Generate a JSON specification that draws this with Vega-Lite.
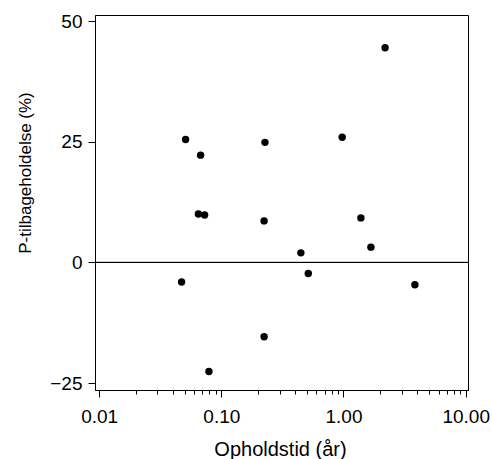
{
  "$schema": "https://vega.github.io/schema/vega-lite/v6.json",
  "width": 373,
  "height": 375,
  "autosize": {"type": "none"},
  "padding": {"left": 95, "top": 15, "right": 24, "bottom": 69},
  "background": "white",
  "config": {
    "font": "Liberation Sans",
    "view": {"stroke": "black", "strokeWidth": 1},
    "axis": {
      "domainColor": "black", "tickColor": "black", "labelColor": "black", "titleColor": "black",
      "labelFont": "Liberation Sans", "titleFont": "Liberation Sans",
      "titleFontWeight": "normal", "grid": false
    }
  },
  "data": {"values": [
    {"tid": 0.051, "p": 25.5},
    {"tid": 0.0677, "p": 22.25},
    {"tid": 0.0649, "p": 10.06},
    {"tid": 0.073, "p": 9.86},
    {"tid": 2.19, "p": 44.5},
    {"tid": 0.2277, "p": 24.9},
    {"tid": 0.976, "p": 25.97},
    {"tid": 0.224, "p": 8.62},
    {"tid": 1.388, "p": 9.24},
    {"tid": 1.676, "p": 3.18},
    {"tid": 0.448, "p": 2.0},
    {"tid": 0.515, "p": -2.27},
    {"tid": 3.84, "p": -4.6},
    {"tid": 0.224, "p": -15.4},
    {"tid": 0.0473, "p": -4.05},
    {"tid": 0.0792, "p": -22.6}
  ]},
  "layer": [
    {
      "mark": {"type": "rule", "color": "black", "strokeWidth": 1},
      "encoding": {"y": {"datum": 0, "type": "quantitative"}}
    },
    {
      "mark": {"type": "point", "filled": true, "color": "black", "opacity": 1, "size": 55},
      "encoding": {
        "x": {
          "field": "tid", "type": "quantitative",
          "scale": {"type": "log", "domain": [0.00925, 10.45], "nice": false},
          "axis": {
            "title": "Opholdstid (år)",
            "titleFontSize": 20,
            "titleBaseline": "alphabetic",
            "titleY": 65.5,
            "titleX": 185,
            "values": [0.01, 0.02, 0.03, 0.04, 0.05, 0.06, 0.07, 0.08, 0.09, 0.1, 0.2, 0.3, 0.4, 0.5, 0.6, 0.7, 0.8, 0.9, 1, 2, 3, 4, 5, 6, 7, 8, 9, 10],
            "labelExpr": "abs(log(datum.value)/LN10 - round(log(datum.value)/LN10)) < 1e-6 ? format(datum.value, '.2f') : ''",
            "labelOverlap": false,
            "labelBound": false,
            "labelFlush": false,
            "labelFontSize": 19,
            "labelBaseline": "alphabetic",
            "labelPadding": 25.5,
            "tickSize": {"condition": {"test": "abs(log(datum.value)/LN10 - round(log(datum.value)/LN10)) < 1e-6", "value": 7}, "value": 4}
          }
        },
        "y": {
          "field": "p", "type": "quantitative",
          "scale": {"domain": [-26.43, 51.3], "nice": false, "zero": false},
          "axis": {
            "title": "P-tilbageholdelse (%)",
            "titleFontSize": 17,
            "titleAngle": -90,
            "titleAlign": "center",
            "titleBaseline": "alphabetic",
            "titleX": -65,
            "titleY": 157.5,
            "values": [-25, 0, 25, 50],
            "labelFontSize": 19,
            "labelPadding": 6,
            "tickSize": 7
          }
        }
      }
    }
  ]
}
